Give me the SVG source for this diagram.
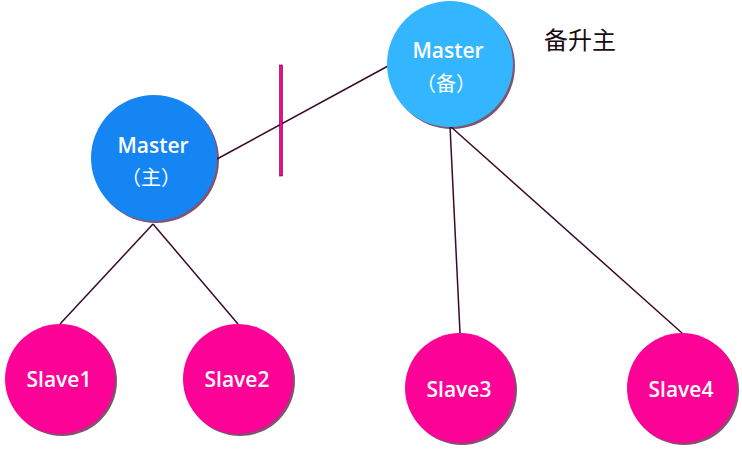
<svg xmlns="http://www.w3.org/2000/svg" width="742" height="449" viewBox="0 0 742 449">
<style>
.ln{stroke:#3a0a28;stroke-width:1.5;fill:none}
.sh{fill:#4a0a30;opacity:0.7}
.t{font-family:"Open Sans","Liberation Sans","Noto Sans CJK SC",sans-serif;fill:#fff;text-anchor:middle;font-size:21px;font-weight:600}
.c{font-family:"Noto Sans CJK SC",sans-serif;fill:#fff;text-anchor:middle;font-size:20px}
.slave{fill:#fc0296}
</style>
<rect width="742" height="449" fill="#fff"/>
<g id="connectors">
<line class="ln" x1="217" y1="159" x2="388" y2="66"/>
<line class="ln" x1="153" y1="224" x2="60" y2="324"/>
<line class="ln" x1="153" y1="224" x2="238" y2="324"/>
<line class="ln" x1="450" y1="126" x2="460" y2="333"/>
<line class="ln" x1="450" y1="126" x2="682" y2="333"/>
<rect x="279.5" y="65" width="3" height="111" fill="#ff0099" stroke="#4a0a30" stroke-width="0.6"/>
</g>
<g id="master-main">
<circle class="sh" cx="156" cy="160" r="63"/>
<circle cx="154" cy="158" r="63" fill="#1685f4"/>
<text class="t" x="153" y="153">Master</text>
<text class="c" x="151" y="185">（主）</text>
</g>
<g id="master-backup">
<circle class="sh" cx="452" cy="66" r="63"/>
<circle cx="450" cy="64" r="63" fill="#33b6ff"/>
<text class="t" x="448" y="58">Master</text>
<text class="c" x="446" y="91">（备）</text>
</g>
<g id="slave1">
<circle class="sh" cx="62" cy="381" r="55"/>
<circle class="slave" cx="60" cy="379" r="55"/>
<text class="t" x="59" y="387">Slave1</text>
</g>
<g id="slave2">
<circle class="sh" cx="240" cy="381" r="55"/>
<circle class="slave" cx="238" cy="379" r="55"/>
<text class="t" x="237" y="387">Slave2</text>
</g>
<g id="slave3">
<circle class="sh" cx="462" cy="390" r="55"/>
<circle class="slave" cx="460" cy="388" r="55"/>
<text class="t" x="459" y="397">Slave3</text>
</g>
<g id="slave4">
<circle class="sh" cx="684" cy="390" r="55"/>
<circle class="slave" cx="682" cy="388" r="55"/>
<text class="t" x="681" y="397">Slave4</text>
</g>
<g id="label">
<text x="544" y="49" font-family="Noto Sans CJK SC,sans-serif" font-size="24" fill="#1a0a14">备升主</text>
</g>
</svg>
